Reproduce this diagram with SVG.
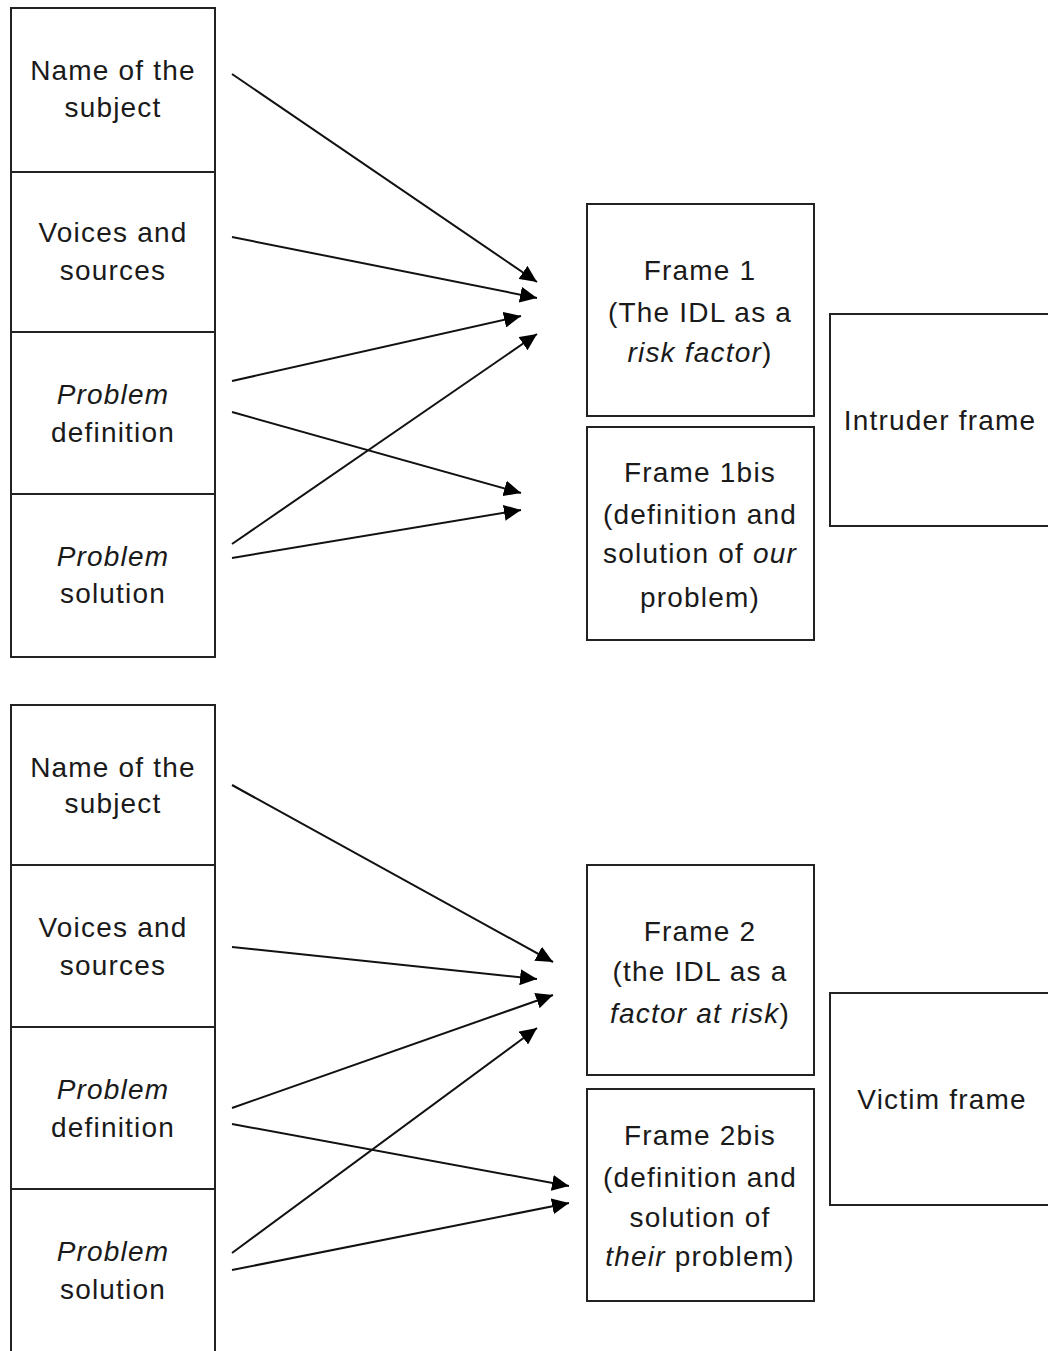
<svg xmlns="http://www.w3.org/2000/svg" width="1048" height="1351" viewBox="0 0 1048 1351">
<style>
.box{fill:#fff;stroke:#222;stroke-width:2}
.div{stroke:#222;stroke-width:2}
text{font-family:"Liberation Sans",Arial,sans-serif;font-size:28px;fill:#1a1a1a;text-anchor:middle;letter-spacing:1.2px}
.ed{stroke:#111;stroke-width:2;fill:none;marker-end:url(#ah)}
</style>
<defs>
<marker id="ah" markerUnits="userSpaceOnUse" markerWidth="18" markerHeight="16" refX="17" refY="8" orient="auto">
<path d="M0,0 L17,8 L0,16 Z" fill="#000"/>
</marker>
</defs>
<rect width="1048" height="1351" fill="#fff"/>
<g id="col-top">
<rect class="box" x="11" y="8" width="204" height="649"/>
<line class="div" x1="11" y1="172" x2="215" y2="172"/>
<line class="div" x1="11" y1="332" x2="215" y2="332"/>
<line class="div" x1="11" y1="494" x2="215" y2="494"/>
</g>
<g id="n-name1"><text x="113" y="80">Name of the</text><text x="113" y="117">subject</text></g>
<g id="n-voices1"><text x="113" y="242">Voices and</text><text x="113" y="280">sources</text></g>
<g id="n-def1"><text x="113" y="404" font-style="italic">Problem</text><text x="113" y="442">definition</text></g>
<g id="n-sol1"><text x="113" y="566" font-style="italic">Problem</text><text x="113" y="603">solution</text></g>
<g id="n-frame1"><rect class="box" x="587" y="204" width="227" height="212"/>
<text x="700" y="280">Frame 1</text><text x="700" y="322">(The IDL as a</text><text x="700" y="362"><tspan font-style="italic">risk factor</tspan>)</text></g>
<g id="n-frame1bis"><rect class="box" x="587" y="427" width="227" height="213"/>
<text x="700" y="482">Frame 1bis</text><text x="700" y="524">(definition and</text><text x="700" y="563">solution of <tspan font-style="italic">our</tspan></text><text x="700" y="607">problem)</text></g>
<g id="n-intruder"><rect class="box" x="830" y="314" width="230" height="212"/>
<text x="940" y="430">Intruder frame</text></g>

<g id="col-bottom">
<rect class="box" x="11" y="705" width="204" height="660"/>
<line class="div" x1="11" y1="865" x2="215" y2="865"/>
<line class="div" x1="11" y1="1027" x2="215" y2="1027"/>
<line class="div" x1="11" y1="1189" x2="215" y2="1189"/>
</g>
<g id="n-name2"><text x="113" y="777">Name of the</text><text x="113" y="813">subject</text></g>
<g id="n-voices2"><text x="113" y="937">Voices and</text><text x="113" y="975">sources</text></g>
<g id="n-def2"><text x="113" y="1099" font-style="italic">Problem</text><text x="113" y="1137">definition</text></g>
<g id="n-sol2"><text x="113" y="1261" font-style="italic">Problem</text><text x="113" y="1299">solution</text></g>
<g id="n-frame2"><rect class="box" x="587" y="865" width="227" height="210"/>
<text x="700" y="941">Frame 2</text><text x="700" y="981">(the IDL as a</text><text x="700" y="1023"><tspan font-style="italic">factor at risk</tspan>)</text></g>
<g id="n-frame2bis"><rect class="box" x="587" y="1089" width="227" height="212"/>
<text x="700" y="1145">Frame 2bis</text><text x="700" y="1187">(definition and</text><text x="700" y="1227">solution of</text><text x="700" y="1266"><tspan font-style="italic">their</tspan> problem)</text></g>
<g id="n-victim"><rect class="box" x="830" y="993" width="230" height="212"/>
<text x="942" y="1109">Victim frame</text></g>

<g id="connectors">
<line class="ed" x1="232" y1="74" x2="537" y2="282"/>
<line class="ed" x1="232" y1="237" x2="537" y2="298"/>
<line class="ed" x1="232" y1="381" x2="521" y2="316"/>
<line class="ed" x1="232" y1="544" x2="537" y2="334"/>
<line class="ed" x1="232" y1="412" x2="521" y2="493"/>
<line class="ed" x1="232" y1="558" x2="521" y2="510"/>
<line class="ed" x1="232" y1="785" x2="553" y2="962"/>
<line class="ed" x1="232" y1="947" x2="537" y2="979"/>
<line class="ed" x1="232" y1="1108" x2="553" y2="995"/>
<line class="ed" x1="232" y1="1253" x2="537" y2="1028"/>
<line class="ed" x1="232" y1="1124" x2="569" y2="1186"/>
<line class="ed" x1="232" y1="1270" x2="569" y2="1203"/>
</g>
</svg>
